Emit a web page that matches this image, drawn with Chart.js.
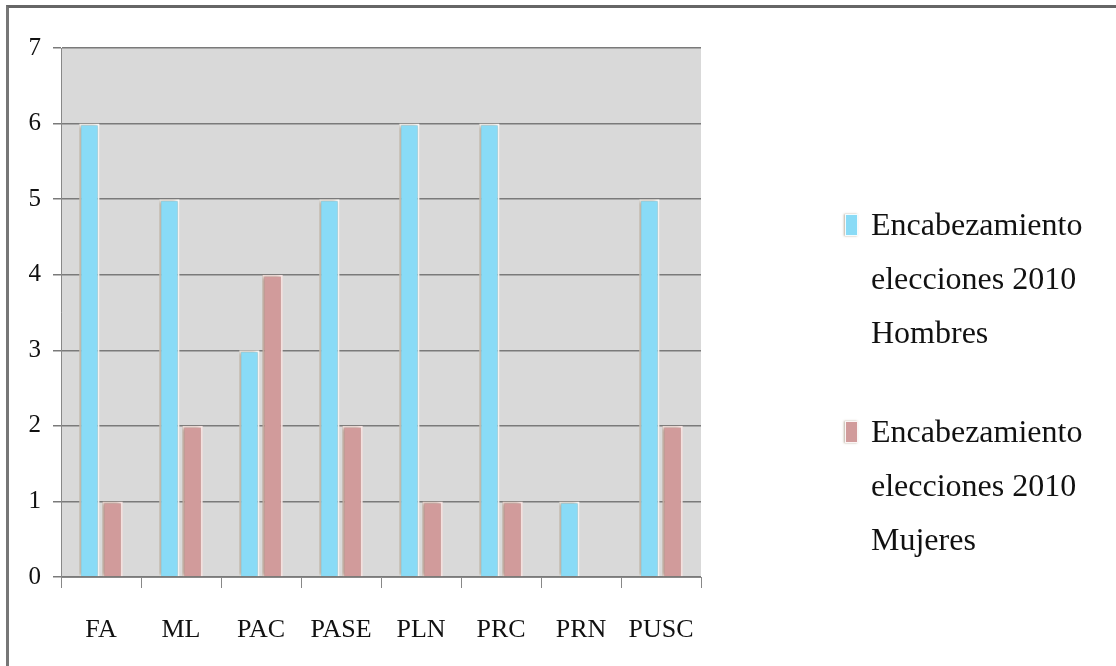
<!DOCTYPE html>
<html>
<head>
<meta charset="utf-8">
<script src="https://cdn.jsdelivr.net/npm/chart.js@4"></script>
<style>
  html, body { margin: 0; padding: 0; background: #fff; }
  #wrap { position: relative; width: 1116px; height: 666px; overflow: hidden; }
  #frame { position: absolute; left: 6px; top: 5px; right: 0; bottom: 0;
           border-top: 3px solid #666; border-left: 3px solid #777; }
  #box { position: absolute; left: 0; top: 0; width: 1116px; height: 666px; }
  #legend { position: absolute; left: 843px; top: 197px; font-family: "Liberation Serif", serif;
            font-size: 32px; line-height: 54px; color: #111; }
  .item { position: relative; padding-left: 28px; width: 225px; margin-bottom: 45px; }
  .mark { position: absolute; left: 2px; top: 17px; width: 11px; height: 20px;
          border: 1px solid rgba(255,255,255,0.9); box-shadow: -1px 0 2px rgba(120,100,70,0.5); }
</style>
</head>
<body>
<div id="wrap">
  <div id="frame"></div>
  <div id="box"><canvas id="myChart"></canvas></div>
  <div id="legend"></div>
</div>
<script>
const parties = ["FA", "ML", "PAC", "PASE", "PLN", "PRC", "PRN", "PUSC"]
const hombres = [6, 5, 3, 5, 6, 6, 1, 5]
const mujeres = [1, 2, 4, 2, 1, 1, 0, 2]
const seriesLabels = ["Encabezamiento elecciones 2010 Hombres", "Encabezamiento elecciones 2010 Mujeres"]
const seriesColors = ["#89dbf6", "#d19b9b"]

// grey plot background + soft shadow on bars
const plotBg = {
    id: "plotBg",
    beforeDraw(chart) {
        const a = chart.chartArea
        const ctx = chart.ctx
        ctx.save()
        ctx.fillStyle = "#d9d9d9"
        ctx.fillRect(a.left, a.top, a.right - a.left, a.bottom - a.top)
        ctx.restore()
    },
    beforeDatasetsDraw(chart) {
        const ctx = chart.ctx
        ctx.save()
        ctx.shadowColor = "rgba(110,90,60,0.55)"
        ctx.shadowBlur = 4
        ctx.shadowOffsetX = -2
    },
    afterDatasetsDraw(chart) {
        chart.ctx.restore()
    }
}

const chart = new Chart("myChart", {
    type: "bar",
    data: {
        labels: parties,
        datasets: [{
            label: seriesLabels[0],
            data: hombres,
            backgroundColor: seriesColors[0],
            borderColor: "rgba(255,255,255,0.95)",
            borderWidth: 2,
        },
        {
            label: seriesLabels[1],
            data: mujeres,
            backgroundColor: seriesColors[1],
            borderColor: "rgba(255,235,235,0.95)",
            borderWidth: 2,
        }]
    },
    options: {
        responsive: true,
        maintainAspectRatio: false,
        animation: false,
        categoryPercentage: 0.58,
        barPercentage: 0.88,
        layout: {padding: {top: 48, right: 415, left: 0, bottom: 0}},
        plugins: {
            legend: {display: false},
            tooltip: {enabled: false}
        },
        scales: {
            x: {
                grid: {drawOnChartArea: false, drawTicks: true, tickLength: 11, color: "#888", offset: true},
                border: {color: "#888", width: 1},
                ticks: {color: "#111", padding: 27, font: {family: "Liberation Serif", size: 26}},
                afterFit(scale) { scale.height = 89 }
            },
            y: {
                min: 0,
                max: 7,
                ticks: {stepSize: 1, color: "#111", padding: 12, font: {family: "Liberation Serif", size: 25}},
                grid: {color: "#7a7a7a", lineWidth: 1.5, drawTicks: true, tickLength: 8},
                border: {color: "#888", width: 1},
                afterFit(scale) { scale.width = 61 }
            }
        }
    },
    plugins: [plotBg]
})

// html legend built from the datasets
const legend = document.getElementById("legend")
chart.data.datasets.forEach(ds => {
    const item = document.createElement("div")
    item.className = "item"
    const mark = document.createElement("span")
    mark.className = "mark"
    mark.style.background = ds.backgroundColor
    item.appendChild(mark)
    item.appendChild(document.createTextNode(ds.label))
    legend.appendChild(item)
})
</script>
</body>
</html>
